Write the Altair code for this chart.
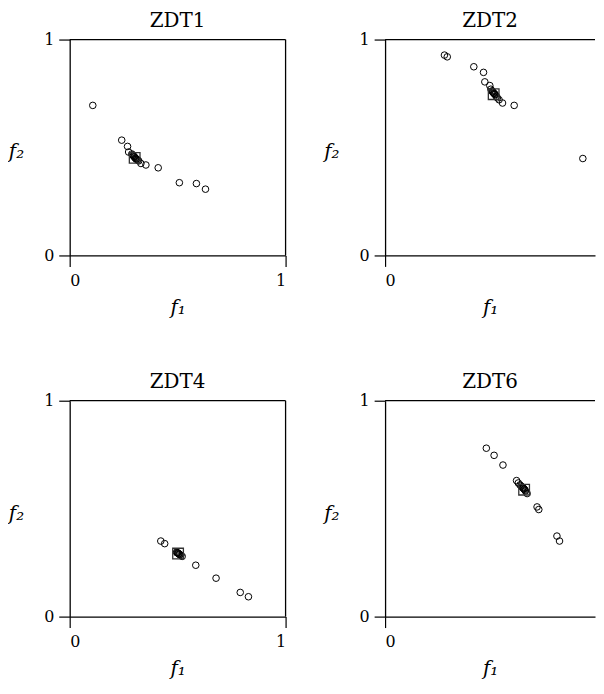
import altair as alt
import pandas as pd

# ZDT1
zdt1_f1 = [0.107, 0.241, 0.268, 0.273, 0.288, 0.292, 0.295, 0.298, 0.300, 0.303, 0.305, 0.308, 0.310, 0.315, 0.320, 0.330, 0.353, 0.410, 0.508, 0.587, 0.629]
zdt1_f2 = [0.695, 0.534, 0.505, 0.479, 0.470, 0.465, 0.462, 0.458, 0.456, 0.452, 0.450, 0.447, 0.446, 0.442, 0.438, 0.426, 0.419, 0.406, 0.337, 0.333, 0.307]
zdt1_best = (0.301, 0.452)

# ZDT2
zdt2_f1 = [0.275, 0.288, 0.411, 0.456, 0.462, 0.485, 0.490, 0.495, 0.498, 0.500, 0.503, 0.505, 0.508, 0.510, 0.515, 0.520, 0.528, 0.544, 0.598, 0.916]
zdt2_f2 = [0.928, 0.920, 0.874, 0.848, 0.804, 0.787, 0.770, 0.762, 0.758, 0.756, 0.752, 0.750, 0.747, 0.745, 0.737, 0.730, 0.721, 0.706, 0.695, 0.449]
zdt2_best = (0.503, 0.747)

# ZDT4
zdt4_f1 = [0.422, 0.440, 0.495, 0.498, 0.500, 0.503, 0.505, 0.508, 0.510, 0.515, 0.521, 0.584, 0.678, 0.790, 0.828]
zdt4_f2 = [0.350, 0.338, 0.298, 0.296, 0.295, 0.293, 0.291, 0.289, 0.287, 0.284, 0.279, 0.238, 0.178, 0.112, 0.092]
zdt4_best = (0.502, 0.292)

# ZDT6
zdt6_f1 = [0.469, 0.505, 0.546, 0.609, 0.617, 0.625, 0.630, 0.635, 0.638, 0.640, 0.643, 0.645, 0.648, 0.650, 0.658, 0.704, 0.712, 0.796, 0.808]
zdt6_f2 = [0.780, 0.747, 0.702, 0.630, 0.619, 0.610, 0.605, 0.600, 0.597, 0.595, 0.592, 0.590, 0.586, 0.582, 0.570, 0.508, 0.496, 0.373, 0.350]
zdt6_best = (0.644, 0.588)

tick_values = [0, 1]
FONT = "DejaVu Serif"
W, H = 217, 217          # full panel size
W_RIGHT = 211            # right-hand panels are cut at the page edge


def panel(name, f1, f2, best, right=False):
    df = pd.DataFrame({"f1": f1, "f2": f2})
    bdf = pd.DataFrame({"f1": [best[0]], "f2": [best[1]]})
    one = pd.DataFrame({"k": [0]})
    width = W_RIGHT if right else W
    xmax = width / W
    xvals = [0] if right else tick_values
    x = alt.X("f1:Q", scale=alt.Scale(domain=[0, xmax], nice=False, zero=False),
              axis=alt.Axis(values=xvals, format="d", title="f₁", titleY=58,
                            titleBaseline="alphabetic"))
    y = alt.Y("f2:Q", scale=alt.Scale(domain=[0, 1], nice=False),
              axis=alt.Axis(values=tick_values, format="d", title="f₂",
                            titleAngle=0, titleX=-54, titleY=113,
                            titleAlign="center", titleBaseline="middle"))
    pts = alt.Chart(df).mark_point(shape="circle", filled=False, size=44,
                                   stroke="black", strokeWidth=1, opacity=1
                                   ).encode(x=x, y=y)
    sq = alt.Chart(bdf).mark_point(shape="square", filled=False, size=115,
                                   stroke="#333333", strokeWidth=1.3, opacity=1
                                   ).encode(x=x, y=y)
    top = alt.Chart(one).mark_rule(color="black", strokeWidth=1.3).encode(
        x=alt.value(0), x2=alt.value(width), y=alt.value(0))
    layers = [pts, sq, top]
    if not right:
        rgt = alt.Chart(one).mark_rule(color="black", strokeWidth=1.3).encode(
            x=alt.value(width), y=alt.value(0), y2=alt.value(H))
        layers.append(rgt)
    return alt.layer(*layers).properties(
        width=width, height=H,
        title=alt.TitleParams(name, font=FONT, fontSize=20,
                              fontWeight="normal", color="black",
                              anchor="middle", frame="group", offset=1))


row1 = alt.hconcat(panel("ZDT1", zdt1_f1, zdt1_f2, zdt1_best),
                   panel("ZDT2", zdt2_f1, zdt2_f2, zdt2_best, right=True),
                   spacing=37)
row2 = alt.hconcat(panel("ZDT4", zdt4_f1, zdt4_f2, zdt4_best),
                   panel("ZDT6", zdt6_f1, zdt6_f2, zdt6_best, right=True),
                   spacing=37)

chart = alt.vconcat(row1, row2, spacing=55).properties(
    padding={"top": 1, "left": 0, "right": 0, "bottom": 0},
    background="white"
).configure_view(
    stroke=None
).configure_axis(
    grid=False, domainColor="black", domainWidth=1.3, tickColor="black",
    tickSize=11, tickWidth=1.2, labelFont=FONT, labelFontSize=16,
    labelColor="black", labelPadding=5, titleFont=FONT,
    titleFontSize=20, titleFontStyle="italic", titleFontWeight="normal",
    titleColor="black"
).configure_axisX(labelPadding=6)

chart.save("out.html", embed_options={"renderer": "svg", "actions": False})
